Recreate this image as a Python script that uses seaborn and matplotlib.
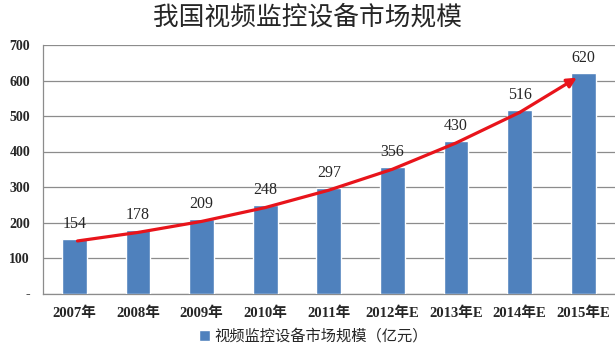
import numpy as np
import pandas as pd
import matplotlib
matplotlib.use("Agg")
import matplotlib.pyplot as plt
import seaborn as sns

sns.set_style("white")
plt.rcParams['font.family'] = ['Liberation Serif', 'Noto Sans CJK SC', 'DejaVu Sans']

# data
years = ['2007年', '2008年', '2009年', '2010年', '2011年', '2012年E', '2013年E', '2014年E', '2015年E']
market = [154, 178, 209, 248, 297, 356, 430, 516, 620]
series_name = '视频监控设备市场规模（亿元）'
title = '我国视频监控设备市场规模'

bar_color = '#4F81BD'
df = pd.DataFrame({'year': years, 'value': market})

fig = plt.figure(figsize=(6.15, 3.51), dpi=100)
ax = fig.add_axes([42.5 / 615, 57.5 / 351, 1 - 42.5 / 615, (306 - 57.5) / 351])

sns.barplot(data=df, x='year', y='value', color=bar_color, width=0.39,
            saturation=1, ax=ax, zorder=3)

ax.set_ylim(0, 700)
ax.set_xlim(-0.5, 8.43)
ax.set_yticks(range(0, 701, 100))
ax.set_yticklabels(['-'] + [str(v) for v in range(100, 701, 100)], fontsize=10, fontweight='bold')
ax.yaxis.grid(True, color='#8c8c8c', linewidth=0.9, zorder=0)
ax.set_axisbelow(True)
ax.tick_params(axis='y', length=5, color='#8c8c8c', pad=4)

# x ticks: labels at centres, tick marks at boundaries
ax.set_xticks(range(len(years)))
ax.set_xticklabels(years, fontsize=10.5, fontweight='bold')
ax.set_xticks(np.arange(-0.5, len(years), 1), minor=True)
ax.tick_params(axis='x', which='major', length=0, pad=9)
ax.tick_params(axis='x', which='minor', length=5, color='#8c8c8c')
ax.set_xlabel('')
ax.set_ylabel('')

for side in ['top', 'right']:
    ax.spines[side].set_visible(False)
for side in ['left', 'bottom']:
    ax.spines[side].set_color('#8c8c8c')
    ax.spines[side].set_linewidth(0.9)

# value labels
for i, v in enumerate(market):
    ax.text(i, v + 20, str(v), ha='center', va='bottom', fontsize=11.5, zorder=5)

# red trend arrow through the bar tops
xs = np.arange(len(market), dtype=float)
xs[0] += 0.05
ax.plot(xs[:-1], np.array(market[:-1]) - 6, color='#E8141B', linewidth=2.3,
        solid_capstyle='round', zorder=4)
ax.annotate('', xy=(7.9, market[-1] - 12), xytext=(7, market[-2] - 6),
            arrowprops=dict(arrowstyle='-|>', color='#E8141B', lw=2.3,
                            mutation_scale=14, shrinkA=0, shrinkB=0),
            zorder=4)

fig.text(0.5, 1 - 17 / 351, title, ha='center', va='center', fontsize=18.5,
         family=['Noto Sans CJK SC'])

# legend
ax.bar([0], [0], color=bar_color, label=series_name)
leg = fig.legend(*ax.get_legend_handles_labels(), loc='center', bbox_to_anchor=(0.51, 1 - 336 / 351),
                 frameon=False, handlelength=0.7, handleheight=0.7,
                 handletextpad=0.3, prop={'family': ['Noto Sans CJK SC'], 'size': 11})

fig.savefig('out.png', dpi=100)
